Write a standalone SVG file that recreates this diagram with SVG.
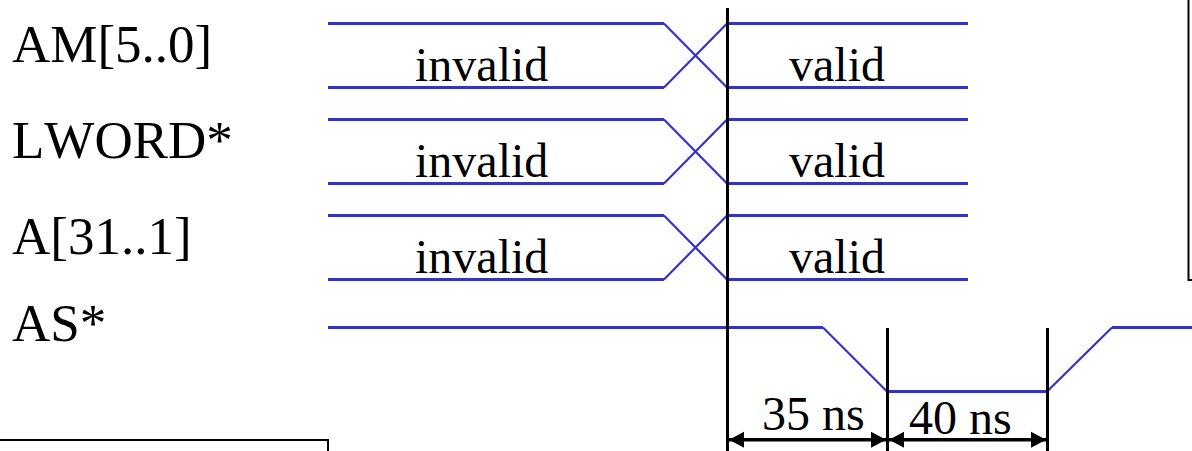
<svg xmlns="http://www.w3.org/2000/svg" width="1192" height="451" viewBox="0 0 1192 451">
<style>
.t{font-family:"Liberation Serif","Times New Roman",serif;fill:#000}
.l{font-size:53px;font-kerning:none}.v{font-size:48px}
.b{stroke:#3333cc;stroke-width:3;fill:none}
.s{stroke:#3333cc;stroke-width:2.2;fill:none}
.k{stroke:#000;stroke-width:3;fill:none}
.a{stroke:#000;stroke-width:3.5;fill:none}
.box{stroke:#000;stroke-width:2;fill:none}
</style>
<defs>
<marker id="ah" markerUnits="userSpaceOnUse" markerWidth="16" markerHeight="18" refX="15" refY="9" orient="auto-start-reverse"><path d="M0 1L15 9L0 17Z" fill="#000"/></marker>
</defs>
<rect width="1192" height="451" fill="#fff"/>
<g id="connectors">
<path class="b" d="M328 23.500H664M328 87.500H664M328 119.500H664M328 183.500H664M328 215.500H664M328 279.500H664"/>
<path class="b" d="M727 23.500H968M727 87.500H968M727 119.500H968M727 183.500H968M727 215.500H968M727 279.500H968"/>
<path class="s" d="M664 23.500L727 87.500M664 87.500L727 23.500M664 119.500L727 183.500M664 183.500L727 119.500M664 215.500L727 279.500M664 279.500L727 215.500"/>
<path class="b" d="M328 327.500H823M887 391.500H1047M1112 327.500H1192"/>
<path class="s" d="M823 327.500L887 391.500M1047 391.500L1112 327.500"/>
<path class="k" d="M727.500 8V451M887.500 328V451M1047.500 328V451"/>
<path class="a" d="M729 439.700H886" marker-start="url(#ah)" marker-end="url(#ah)"/>
<path class="a" d="M889 439.700H1046" marker-start="url(#ah)" marker-end="url(#ah)"/>
</g>
<g id="box-left"><path class="box" d="M0 440H328V451"/></g>
<g id="box-right"><path class="box" d="M1188.500 0V280H1192"/></g>
<g id="am"><text class="t l" x="12" y="62">AM[5..0]</text><text class="t v" x="415" y="81">invalid</text><text class="t v" x="789" y="81">valid</text></g>
<g id="lword"><text class="t l" x="12" y="158">LWORD*</text><text class="t v" x="415" y="177">invalid</text><text class="t v" x="789" y="177">valid</text></g>
<g id="a"><text class="t l" x="12" y="254">A[31..1]</text><text class="t v" x="415" y="273">invalid</text><text class="t v" x="789" y="273">valid</text></g>
<g id="as"><text class="t l" x="12" y="341">AS*</text></g>
<g id="d35"><text class="t v" x="762" y="430">35 ns</text></g>
<g id="d40"><text class="t v" x="909" y="434">40 ns</text></g>
</svg>
